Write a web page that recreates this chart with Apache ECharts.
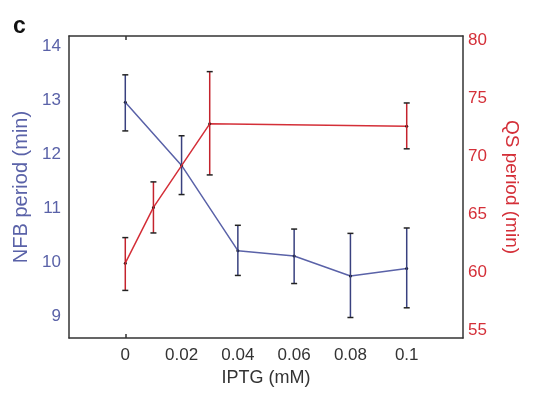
<!DOCTYPE html>
<html>
<head>
<meta charset="utf-8">
<script src="https://cdn.jsdelivr.net/npm/echarts@6/dist/echarts.min.js"></script>
<style>html,body{margin:0;padding:0;background:#fff}#c{width:534px;height:397px}</style>
</head>
<body>
<div id="c"></div>
<script>
// Data
var xTickLabels = [0, 0.02, 0.04, 0.06, 0.08, 0.1];
var nfbTickLabels = [9, 10, 11, 12, 13, 14];
var qsTickLabels = [55, 60, 65, 70, 75, 80];

var nfbX = [0, 0.02, 0.04, 0.06, 0.08, 0.1];
var nfbMean = [12.97, 11.80, 10.22, 10.12, 9.75, 9.89];
var nfbLow = [12.44, 11.26, 9.76, 9.61, 8.98, 9.16];
var nfbHigh = [13.48, 12.35, 10.69, 10.62, 10.54, 10.64];

var qsX = [0, 0.01, 0.03, 0.1];
var qsMean = [60.8, 65.6, 72.8, 72.6];
var qsLow = [58.45, 63.4, 68.4, 70.65];
var qsHigh = [63.0, 67.8, 77.3, 74.6];

var BLUE = '#5a62a8';
var RED = '#d42f38';
var FONT = '"Liberation Sans", Arial, sans-serif';

function pairs(xs, ys) { return xs.map(function (x, i) { return [x, ys[i]]; }); }
function triples(xs, lo, hi) { return xs.map(function (x, i) { return [x, lo[i], hi[i]]; }); }

function errRender(barColor) {
  return function (params, api) {
    var x = api.value(0);
    var p1 = api.coord([x, api.value(1)]);
    var p2 = api.coord([x, api.value(2)]);
    var hw = 3;
    return {
      type: 'group',
      children: [
        { type: 'line', shape: { x1: p1[0], y1: p1[1], x2: p2[0], y2: p2[1] }, style: { stroke: barColor, lineWidth: 1.5 } },
        { type: 'line', shape: { x1: p1[0] - hw, y1: p1[1], x2: p1[0] + hw, y2: p1[1] }, style: { stroke: '#222', lineWidth: 1.5 } },
        { type: 'line', shape: { x1: p2[0] - hw, y1: p2[1], x2: p2[0] + hw, y2: p2[1] }, style: { stroke: '#222', lineWidth: 1.5 } }
      ]
    };
  };
}

var axisLineStyle = { color: '#333', width: 1.5 };

var chart = echarts.init(document.getElementById('c'), null, { renderer: 'canvas' });
chart.setOption({
  animation: false,
  backgroundColor: '#fff',
  title: {
    text: 'c', left: 8, top: 10,
    textStyle: { fontFamily: FONT, fontSize: 23, fontWeight: 'bold', color: '#111' }
  },
  grid: { left: 69, top: 36, right: 71, bottom: 59 },
  xAxis: [{
    type: 'value', position: 'bottom', min: -0.02, max: 0.12,
    name: 'IPTG (mM)', nameLocation: 'middle', nameGap: 31,
    nameTextStyle: { fontFamily: FONT, fontSize: 18, color: '#333' },
    axisLine: { show: true, onZero: false, lineStyle: axisLineStyle },
    axisTick: { show: true, inside: true, length: 4, customValues: [0], lineStyle: { color: '#333', width: 1.5 } },
    axisLabel: { customValues: xTickLabels, margin: 9, fontFamily: FONT, fontSize: 17, color: '#333' },
    splitLine: { show: false }
  }, {
    type: 'value', position: 'top', min: -0.02, max: 0.12,
    axisLine: { show: true, onZero: false, lineStyle: axisLineStyle },
    axisTick: { show: true, inside: true, length: 4, customValues: [0], lineStyle: { color: '#333', width: 1.5 } },
    axisLabel: { show: false },
    splitLine: { show: false }
  }],
  yAxis: [{
    type: 'value', position: 'left', min: 8.6, max: 14.2,
    name: 'NFB period (min)', nameLocation: 'middle', nameGap: 37,
    nameTextStyle: { fontFamily: FONT, fontSize: 20, color: BLUE },
    axisLine: { show: true, onZero: false, lineStyle: axisLineStyle },
    axisTick: { show: false },
    axisLabel: { customValues: nfbTickLabels, margin: 8, fontFamily: FONT, fontSize: 17, color: BLUE },
    splitLine: { show: false }
  }, {
    type: 'value', position: 'right', min: 54.35, max: 80.37,
    name: 'QS period (min)', nameLocation: 'middle', nameGap: 39, nameRotate: -90,
    nameTextStyle: { fontFamily: FONT, fontSize: 19, color: RED },
    axisLine: { show: true, onZero: false, lineStyle: axisLineStyle },
    axisTick: { show: false },
    axisLabel: { customValues: qsTickLabels, margin: 5, fontFamily: FONT, fontSize: 17, color: RED },
    splitLine: { show: false }
  }],
  series: [{
    type: 'line', xAxisIndex: 0, yAxisIndex: 0, data: pairs(nfbX, nfbMean),
    lineStyle: { color: BLUE, width: 1.5 }, itemStyle: { color: '#111' },
    symbol: 'circle', symbolSize: 3, z: 2
  }, {
    type: 'custom', xAxisIndex: 0, yAxisIndex: 0, data: triples(nfbX, nfbLow, nfbHigh),
    renderItem: errRender('#39417f'), z: 3
  }, {
    type: 'line', xAxisIndex: 0, yAxisIndex: 1, data: pairs(qsX, qsMean),
    lineStyle: { color: RED, width: 1.5 }, itemStyle: { color: '#111' },
    symbol: 'circle', symbolSize: 3, z: 4
  }, {
    type: 'custom', xAxisIndex: 0, yAxisIndex: 1, data: triples(qsX, qsLow, qsHigh),
    renderItem: errRender('#c4232d'), z: 5
  }]
});
</script>
</body>
</html>
